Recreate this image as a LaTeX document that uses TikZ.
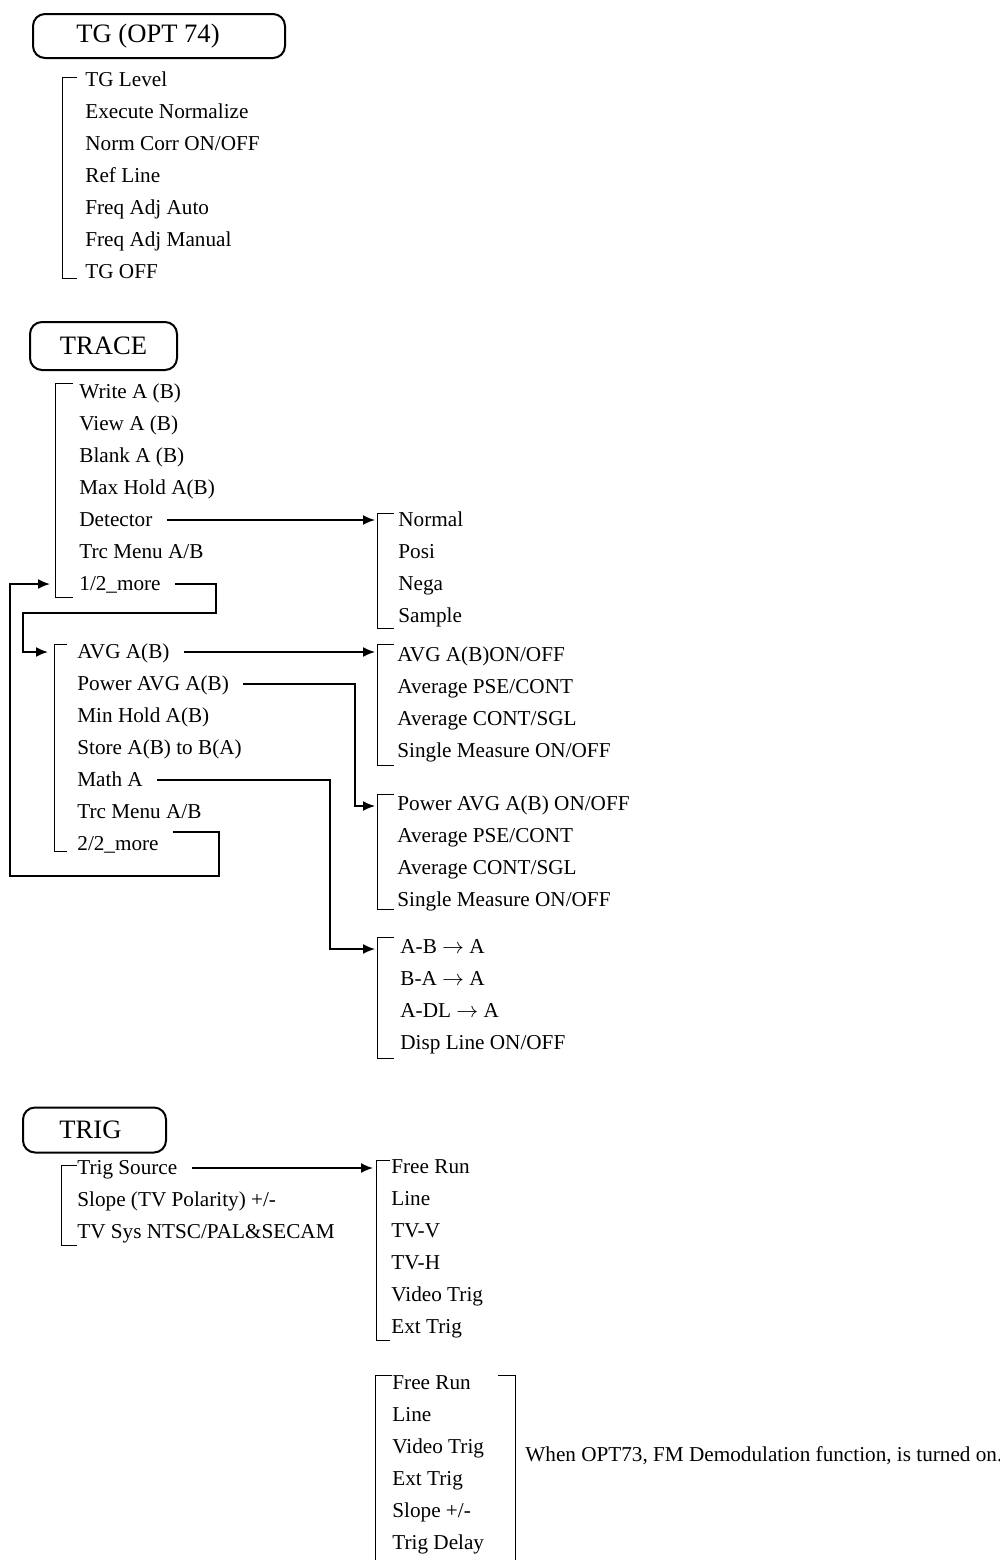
\documentclass[tikz,border=0pt]{standalone}
\usepackage{fontspec}
\setmainfont{Liberation Serif}
\usetikzlibrary{arrows.meta}

\begin{document}
\begin{tikzpicture}[x=0.5pt,y=-0.5pt,
		hdr/.style={draw,line width=1pt,rounded corners=6pt,inner sep=0pt,font=\fontsize{13.3pt}{16pt}\selectfont},
		itm/.style={anchor=west,inner sep=0pt,text height=0.72em,text depth=0.1em,font=\fontsize{10.6pt}{12pt}\selectfont},
		brk/.style={line width=0.5pt},
		ar/.style={line width=0.8pt,-{Latex[length=6pt,width=5pt]}},
		lp/.style={line width=0.9pt,-{Latex[length=6pt,width=5pt]}}]
		\useasboundingbox (0,0) rectangle (1000,1560);
		% TG
		\node[hdr,minimum width=126pt,minimum height=22pt] (tg) at (159,36) {TG (OPT 74)\kern11pt\relax};
		\node[itm] (tglev)  at (85,80)  {TG Level};
		\node[itm] (tgnorm) at (85,112) {Execute Normalize};
		\node[itm] (tgcorr) at (85,144) {Norm Corr ON/OFF};
		\node[itm] (tgref)  at (85,176) {Ref Line};
		\node[itm] (tgauto) at (85,208) {Freq Adj Auto};
		\node[itm] (tgman)  at (85,240) {Freq Adj Manual};
		\node[itm] (tgoff)  at (85,272) {TG OFF};
		\draw[brk] (77,77) -- (62,77) -- (62,278) -- (77,278);
		% TRACE 1/2
		\node[hdr,minimum width=73.5pt,minimum height=24pt] (trace) at (103.5,346) {TRACE};
		\node[itm] (wrt)   at (79,392) {Write A (B)};
		\node[itm] (view)  at (79,424) {View A (B)};
		\node[itm] (blank) at (79,456) {Blank A (B)};
		\node[itm] (maxh)  at (79,488) {Max Hold A(B)};
		\node[itm] (det)   at (79,520) {Detector};
		\node[itm] (trc1)  at (79,552) {Trc Menu A/B};
		\node[itm] (more1) at (79,584) {1/2\_more};
		\draw[brk] (73,383) -- (55,383) -- (55,597) -- (73,597);
		\node[itm] (nrm)  at (398,520) {Normal};
		\node[itm] (posi) at (398,552) {Posi};
		\node[itm] (nega) at (398,584) {Nega};
		\node[itm] (smp)  at (398,616) {Sample};
		\draw[brk] (394,513) -- (377,513) -- (377,628) -- (394,628);
		\coordinate (detin) at (375,520);
		\draw[ar] ([xshift=7pt]det.east) -- (detin);
		% TRACE 2/2
		\node[itm] (avg)   at (77,652) {AVG A(B)};
		\node[itm] (pavg)  at (77,684) {Power AVG A(B)};
		\node[itm] (minh)  at (77,716) {Min Hold A(B)};
		\node[itm] (store) at (77,748) {Store A(B) to B(A)};
		\node[itm] (matha) at (77,780) {Math A};
		\node[itm] (trc2)  at (77,812) {Trc Menu A/B};
		\node[itm] (more2) at (77,844) {2/2\_more};
		\draw[brk] (67,644) -- (54,644) -- (54,851) -- (67,851);
		\coordinate (p2in) at (48,652);
		\coordinate (p1in) at (50,584);
		\draw[lp] ([xshift=7pt]more1.east) -| (216,613) -| (23,652) -- (p2in);
		\draw[lp] ([xshift=7pt,yshift=6pt]more2.east) -| (219,876) -| (10,584) -- (p1in);
		\node[itm] (avgon)  at (397,655) {AVG A(B)ON/OFF};
		\node[itm] (avgpse) at (397,687) {Average PSE/CONT};
		\node[itm] (avgsgl) at (397,719) {Average CONT/SGL};
		\node[itm] (avgsm)  at (397,751) {Single Measure ON/OFF};
		\draw[brk] (394,644) -- (377,644) -- (377,765) -- (394,765);
		\coordinate (avgin) at (375,652);
		\draw[ar] ([xshift=7pt]avg.east) -- (avgin);
		\node[itm] (pwon)  at (397,804) {Power AVG A(B) ON/OFF};
		\node[itm] (pwpse) at (397,836) {Average PSE/CONT};
		\node[itm] (pwsgl) at (397,868) {Average CONT/SGL};
		\node[itm] (pwsm)  at (397,900) {Single Measure ON/OFF};
		\draw[brk] (394,794) -- (377,794) -- (377,909) -- (394,909);
		\coordinate (pwin) at (375,806);
		\draw[ar] ([xshift=7pt]pavg.east) -| (355,806) -- (pwin);
		\node[itm] (amb)  at (400,947)  {A-B $\rightarrow$ A};
		\node[itm] (bma)  at (400,979)  {B-A $\rightarrow$ A};
		\node[itm] (adl)  at (400,1011) {A-DL $\rightarrow$ A};
		\node[itm] (disp) at (400,1043) {Disp Line ON/OFF};
		\draw[brk] (394,937) -- (377,937) -- (377,1058) -- (394,1058);
		\coordinate (mathin) at (375,949);
		\draw[ar] ([xshift=7pt]matha.east) -| (330,949) -- (mathin);
		% TRIG
		\node[hdr,minimum width=71.5pt,minimum height=22.5pt] (trig) at (94.5,1130) {TRIG\kern4pt\relax};
		\node[itm] (tsrc)  at (77,1168) {Trig Source};
		\node[itm] (slope) at (77,1200) {Slope (TV Polarity) +/-};
		\node[itm] (tvsys) at (77,1232) {TV Sys NTSC/PAL\&SECAM};
		\draw[brk] (77,1165) -- (61,1165) -- (61,1245) -- (77,1245);
		\node[itm] (frun)  at (391,1167) {Free Run};
		\node[itm] (line)  at (391,1199) {Line};
		\node[itm] (tvv)   at (391,1231) {TV-V};
		\node[itm] (tvh)   at (391,1263) {TV-H};
		\node[itm] (vtrig) at (391,1295) {Video Trig};
		\node[itm] (etrig) at (391,1327) {Ext Trig};
		\draw[brk] (390,1160) -- (376,1160) -- (376,1340) -- (390,1340);
		\coordinate (srcin) at (373,1168);
		\draw[ar] ([xshift=7pt]tsrc.east) -- (srcin);
		% FM demod
		\node[itm] (fmfree)  at (392,1383) {Free Run};
		\node[itm] (fmline)  at (392,1415) {Line};
		\node[itm] (fmvid)   at (392,1447) {Video Trig};
		\node[itm] (fmext)   at (392,1479) {Ext Trig};
		\node[itm] (fmslope) at (392,1511) {Slope +/-};
		\node[itm] (fmdly)   at (392,1543) {Trig Delay};
		\draw[brk] (392,1375) -- (375,1375) -- (375,1560);
		\draw[brk] (498,1375) -- (515,1375) -- (515,1560);
		\node[itm] (fmnote) at (525,1455) {When OPT73, FM Demodulation function, is turned on.};
	\end{tikzpicture}
\end{document}
